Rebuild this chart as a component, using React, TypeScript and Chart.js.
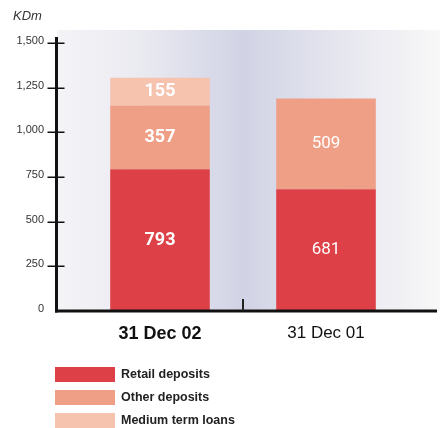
import React, { useEffect, useRef } from "react";
import { Chart, registerables } from "chart.js";

Chart.register(...registerables);

const categories = ["31 Dec 02", "31 Dec 01"];
const retailDeposits = [793, 681];
const otherDeposits = [357, 509];
const mediumTermLoans = [155, 0];
const yTicks = [0, 250, 500, 750, 1000, 1250, 1500];
const unitLabel = "KDm";
const seriesNames = ["Retail deposits", "Other deposits", "Medium term loans"];
const seriesData = [retailDeposits, otherDeposits, mediumTermLoans];
const seriesColors = ["#DD4046", "#EE9F86", "#F6C3AF"];

const SANS = "'Liberation Sans', Arial, sans-serif";
const ROBOTO = "Roboto, 'Liberation Sans', sans-serif";

const decorPlugin = {
  id: "decor",
  beforeDraw(chart: any) {
    const { ctx, chartArea: a } = chart;
    const xs = chart.scales.x;
    const left = a.left - 20;
    const right = a.right + 31;
    const top = a.top - 13;
    const mid = (xs.getPixelForValue(0) + xs.getPixelForValue(1)) / 2;
    const m = (mid - left) / (right - left);
    const g = ctx.createLinearGradient(left, 0, right, 0);
    g.addColorStop(0, "#f4f4f7");
    g.addColorStop(m * 0.45, "#eaeaf1");
    g.addColorStop(m, "#d1d3e5");
    g.addColorStop(m + (1 - m) * 0.55, "#e8e8f0");
    g.addColorStop(0.92, "#f2f2f5");
    g.addColorStop(1, "#f8f8f8");
    ctx.save();
    ctx.fillStyle = g;
    ctx.fillRect(left, top, right - left, a.bottom - top);
    ctx.restore();
  },
  afterDatasetsDraw(chart: any) {
    const { ctx, chartArea: a } = chart;
    const xs = chart.scales.x;
    const ys = chart.scales.y;
    const axisX = a.left - 20.5;
    ctx.save();
    // data labels
    chart.data.datasets.forEach((ds: any, di: number) => {
      const meta = chart.getDatasetMeta(di);
      meta.data.forEach((el: any, i: number) => {
        const v = ds.data[i];
        if (!v) return;
        ctx.fillStyle = "#ffffff";
        ctx.textAlign = "center";
        ctx.textBaseline = "middle";
        ctx.font = i === 0 ? `bold 18px ${ROBOTO}` : `normal 17px ${ROBOTO}`;
        ctx.fillText(String(v), el.x, (el.y + el.base) / 2);
      });
    });
    // y axis line
    ctx.strokeStyle = "#111111";
    ctx.lineWidth = 3;
    ctx.beginPath();
    ctx.moveTo(axisX, a.top - 6);
    ctx.lineTo(axisX, a.bottom + 1.5);
    ctx.stroke();
    // y ticks
    ctx.lineWidth = 1.5;
    yTicks.forEach((v) => {
      if (v === 0) return;
      const y = Math.round(ys.getPixelForValue(v)) + 0.25;
      ctx.beginPath();
      ctx.moveTo(axisX - 9, y);
      ctx.lineTo(axisX + 8, y);
      ctx.stroke();
    });
    // x axis line
    ctx.lineWidth = 3;
    ctx.beginPath();
    ctx.moveTo(axisX - 1.5, a.bottom);
    ctx.lineTo(a.right + 28, a.bottom);
    ctx.stroke();
    // middle tick between categories
    const mid = Math.round((xs.getPixelForValue(0) + xs.getPixelForValue(1)) / 2);
    ctx.lineWidth = 2;
    ctx.strokeStyle = "#222222";
    ctx.beginPath();
    ctx.moveTo(mid, a.bottom - 12);
    ctx.lineTo(mid, a.bottom);
    ctx.stroke();
    ctx.restore();
  },
};

export default function App() {
  const canvasRef = useRef<HTMLCanvasElement>(null);

  useEffect(() => {
    const canvas = canvasRef.current!;
    const chart = new Chart(canvas, {
      type: "bar",
      data: {
        labels: categories,
        datasets: seriesNames.map((name, i) => ({
          label: name,
          data: seriesData[i],
          backgroundColor: seriesColors[i],
          borderWidth: 0,
          categoryPercentage: 1,
          barPercentage: 0.6,
        })),
      },
      options: {
        responsive: false,
        animation: false,
        devicePixelRatio: 1,
        layout: { padding: { top: 43, right: 37, bottom: 87, left: 0 } },
        plugins: { legend: { display: false }, tooltip: { enabled: false } },
        scales: {
          x: {
            stacked: true,
            grid: { display: false, drawTicks: false },
            border: { display: false },
            afterFit: (s: any) => {
              s.height = 30;
            },
            ticks: {
              padding: 12,
              color: "#111111",
              font: (ctx: any) =>
                ctx.index === 0
                  ? { family: SANS, size: 18, weight: "bold" }
                  : { family: SANS, size: 17, weight: "normal" },
            },
          },
          y: {
            stacked: true,
            min: 0,
            max: 1500,
            grid: { display: false, drawTicks: false },
            border: { display: false },
            afterFit: (s: any) => {
              s.width = 77;
            },
            afterBuildTicks: (s: any) => {
              s.ticks = yTicks.map((v) => ({ value: v }));
            },
            ticks: {
              padding: 33,
              labelOffset: -2,
              color: "#333333",
              font: { family: SANS, size: 11 },
              callback: (v: any) => Number(v).toLocaleString("en-US"),
            },
          },
        },
      } as any,
      plugins: [decorPlugin],
    });
    return () => chart.destroy();
  }, []);

  return (
    <div style={{ position: "absolute", left: 0, top: 0, width: 446, height: 428, background: "#fff" }}>
      <canvas ref={canvasRef} width={446} height={428} style={{ display: "block", width: 446, height: 428 }} />
      <div
        style={{
          position: "absolute",
          left: 13,
          top: 7,
          fontFamily: SANS,
          fontStyle: "italic",
          fontSize: 13,
          color: "#333",
          lineHeight: "18px",
        }}
      >
        {unitLabel}
      </div>
      {seriesNames.map((name, i) => (
        <div
          key={name}
          style={{
            position: "absolute",
            left: 55,
            top: 367 + i * 23,
            height: 15,
            display: "flex",
            alignItems: "center",
          }}
        >
          <span style={{ display: "inline-block", width: 60, height: 15, background: seriesColors[i] }} />
          <span
            style={{
              marginLeft: 6,
              fontFamily: SANS,
              fontWeight: "bold",
              fontSize: 12.5,
              color: "#222",
              whiteSpace: "nowrap",
              lineHeight: "15px",
            }}
          >
            {name}
          </span>
        </div>
      ))}
    </div>
  );
}
